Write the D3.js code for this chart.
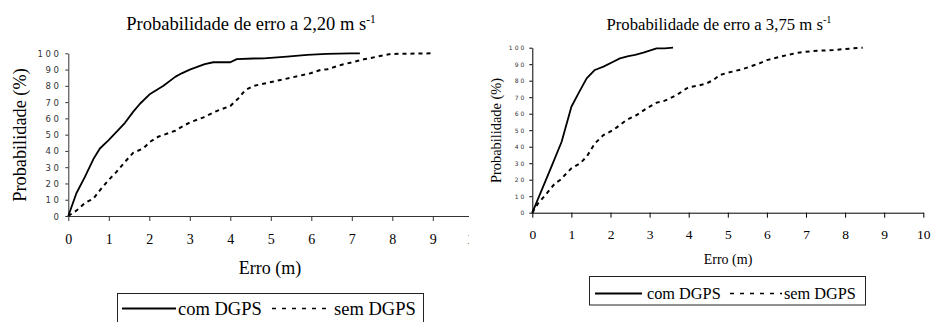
<!DOCTYPE html>
<html><head><meta charset="utf-8">
<script src="https://cdn.jsdelivr.net/npm/d3@7"></script>
<style>body{margin:0;background:#fff}svg{display:block}</style>
</head><body>
<svg id="chart" width="935" height="322"></svg>
<script>
// ---- data ----
const xTickValues = [0,1,2,3,4,5,6,7,8,9,10];
const yTickValues = [0,10,20,30,40,50,60,70,80,90,100];
const seriesNames = ["com DGPS","sem DGPS"];
const titleLeft = "Probabilidade de erro a 2,20 m s";
const titleRight = "Probabilidade de erro a 3,75 m s";

const leftComX = [0,0.2,0.41,0.62,0.78,0.99,1.19,1.4,1.6,1.77,2.02,2.35,2.64,2.8,3.0,3.2,3.37,3.58,4.0,4.16,4.57,4.83,5.4,5.9,6.38,6.96,7.2];
const leftComY = [0,14,24,35,41.5,46.5,51.7,57.3,64,69,75,80,85.5,87.7,90,91.8,93.4,94.5,94.5,96.4,96.8,96.9,98,99,99.6,100,100];
const leftSemX = [0,0.21,0.41,0.62,0.78,0.99,1.19,1.4,1.6,1.85,2.02,2.22,2.64,2.8,3.0,3.34,3.66,4.0,4.2,4.37,4.58,5.24,5.98,6.23,6.4,6.73,7.3,7.96,9.03];
const leftSemY = [0,3.5,8,10.7,15.8,22,27.1,33.3,38.8,41.5,45.6,48.7,52.4,54.8,57.5,60.6,64.5,67.6,72.3,77.4,80,83.6,87.7,89.8,90.2,92.8,96.3,99.6,100];

const rightComX = [0,0.24,0.49,0.75,1.0,1.18,1.39,1.6,1.82,2.07,2.24,2.46,2.63,2.84,3.0,3.18,3.39,3.6];
const rightComY = [0,13.7,27.9,43,64.2,72.3,81.4,86.5,88.5,91.5,93.5,94.9,95.6,97,98.2,99.6,99.6,100];
const rightSemX = [0,0.15,0.37,0.58,0.71,1.0,1.22,1.39,1.6,1.82,2.07,2.24,2.41,2.67,2.92,3.18,3.39,3.69,3.99,4.2,4.46,4.63,4.8,5.0,5.39,5.81,6.0,6.33,6.8,7.19,7.7,8.2,8.45];
const rightSemY = [0,5.7,11.7,17.8,19.8,26.9,29.9,33.9,42,47,50.1,53.1,56.2,59.2,63.2,66.7,67.9,71.3,76,76.8,78.4,80.4,83.5,84.8,87.1,90.5,92.5,94.5,97,98,98.6,99.6,100];

const svg = d3.select("#chart");
const SERIF = "Liberation Serif";
const SANS = "DejaVu Sans";

function serifText(sel, size){
  return sel.attr("font-family",SERIF).style("font-family",SERIF)
    .attr("font-size",size).style("font-size",size+"px").attr("fill","#000");
}

function panel(cfg){
  const g = svg.append("g");
  if (cfg.clipW){
    const id = "clip"+cfg.id;
    svg.append("defs").append("clipPath").attr("id",id)
      .append("rect").attr("x",0).attr("y",0).attr("width",cfg.clipW).attr("height",322);
    g.attr("clip-path","url(#"+id+")");
  }
  const x = d3.scaleLinear().domain([0,10]).range([cfg.x0,cfg.x1]);
  const y = d3.scaleLinear().domain([0,100]).range([cfg.y0,cfg.y1]);

  // x axis
  const xa = g.append("g").attr("transform",`translate(0,${cfg.y0})`)
    .call(d3.axisBottom(x).tickValues(xTickValues).tickSize(cfg.xTick).tickSizeOuter(0).tickFormat(d3.format("d")));
  xa.attr("font-family",SERIF).attr("font-size",cfg.xFont);
  xa.select(".domain").attr("stroke",cfg.axisColor);
  xa.selectAll(".tick line").attr("stroke",cfg.axisColor);
  serifText(xa.selectAll(".tick text"), cfg.xFont).attr("y",cfg.xLabelDy).attr("dy",0);

  // y axis
  const ya = g.append("g").attr("transform",`translate(${cfg.x0},0)`)
    .call(d3.axisLeft(y).tickValues(yTickValues).tickSize(cfg.yTick).tickSizeOuter(0).tickFormat(d3.format("d")));
  ya.attr("font-family",SANS).attr("font-size",cfg.yFont);
  ya.select(".domain").attr("stroke",cfg.axisColor);
  ya.selectAll(".tick line").attr("stroke",cfg.axisColor);
  ya.selectAll(".tick text").attr("font-family",SANS).style("font-family",SANS)
    .attr("font-size",cfg.yFont).style("font-size",cfg.yFont+"px")
    .attr("letter-spacing",cfg.ySpacing).style("letter-spacing",cfg.ySpacing+"px")
    .attr("fill","#333").attr("x",-cfg.yLabelGap).attr("dy","0.36em");

  // lines
  const line = d3.line().x(d=>x(d[0])).y(d=>y(d[1]));
  const com = cfg.comX.map((v,i)=>[v,cfg.comY[i]]);
  const sem = cfg.semX.map((v,i)=>[v,cfg.semY[i]]);
  g.append("path").datum(com).attr("d",line).attr("fill","none")
    .attr("stroke","#000").attr("stroke-width",1.8).attr("stroke-linejoin","round");
  g.append("path").datum(sem).attr("d",line).attr("fill","none")
    .attr("stroke","#000").attr("stroke-width",2).attr("stroke-dasharray","4,4");

  // title
  const t = serifText(g.append("text"), cfg.titleFont).attr("x",cfg.titleX).attr("y",cfg.titleY)
    .attr("text-anchor","middle");
  t.append("tspan").text(cfg.title);
  const sup = cfg.titleFont*0.62;
  t.append("tspan").text("-1").attr("dy",-cfg.titleFont*0.4)
    .attr("font-size",sup).style("font-size",sup+"px");

  // y title
  serifText(g.append("text"), cfg.yTitleFont)
    .attr("transform",`translate(${cfg.yTitleX},${cfg.yTitleY}) rotate(-90)`)
    .attr("text-anchor","middle").text("Probabilidade (%)");
  // x title
  serifText(g.append("text"), cfg.xTitleFont).attr("x",cfg.xTitleX).attr("y",cfg.xTitleY)
    .attr("text-anchor","middle").text("Erro (m)");

  // legend
  const L = cfg.leg;
  g.append("rect").attr("x",L.x).attr("y",L.y).attr("width",L.w).attr("height",L.h)
    .attr("fill","none").attr("stroke","#222").attr("stroke-width",1);
  g.append("line").attr("x1",L.l1).attr("x2",L.l2).attr("y1",L.ly).attr("y2",L.ly)
    .attr("stroke","#000").attr("stroke-width",1.8);
  serifText(g.append("text"), L.font).attr("x",L.t1).attr("y",L.ty).text(seriesNames[0]);
  g.append("line").attr("x1",L.d1).attr("x2",L.d2).attr("y1",L.ly).attr("y2",L.ly)
    .attr("stroke","#000").attr("stroke-width",1.5).attr("stroke-dasharray","4,6");
  serifText(g.append("text"), L.font).attr("x",L.t2).attr("y",L.ty).text(seriesNames[1]);
}

panel({id:"L", clipW:469, x0:68.3, x1:473.3, y0:216, y1:53.3, axisColor:"#333",
  xTick:5, yTick:3, xFont:14, xLabelDy:28, yFont:8.5, ySpacing:2.5, yLabelGap:7,
  comX:leftComX, comY:leftComY, semX:leftSemX, semY:leftSemY,
  title:titleLeft, titleX:251, titleY:30, titleFont:18.5,
  yTitleX:26, yTitleY:135, yTitleFont:18.3,
  xTitleX:270, xTitleY:274, xTitleFont:18,
  leg:{x:117.5,y:293.5,w:306,h:40, l1:122,l2:176,ly:308.5, t1:178,d1:272,d2:331,t2:334,ty:315,font:18.5}
});
panel({id:"R", x0:532.3, x1:923.3, y0:212.7, y1:47.7, axisColor:"#000",
  xTick:5, yTick:3, xFont:13.5, xLabelDy:26.5, yFont:6, ySpacing:2, yLabelGap:6,
  comX:rightComX, comY:rightComY, semX:rightSemX, semY:rightSemY,
  title:titleRight, titleX:719, titleY:29.5, titleFont:16.7,
  yTitleX:501, yTitleY:130.5, yTitleFont:14.4,
  xTitleX:728, xTitleY:264, xTitleFont:14,
  leg:{x:589.5,y:276.5,w:276,h:28.5, l1:595,l2:642,ly:293.5, t1:647,d1:730,d2:782,t2:784,ty:298.5,font:16.3}
});
</script>
</body></html>
